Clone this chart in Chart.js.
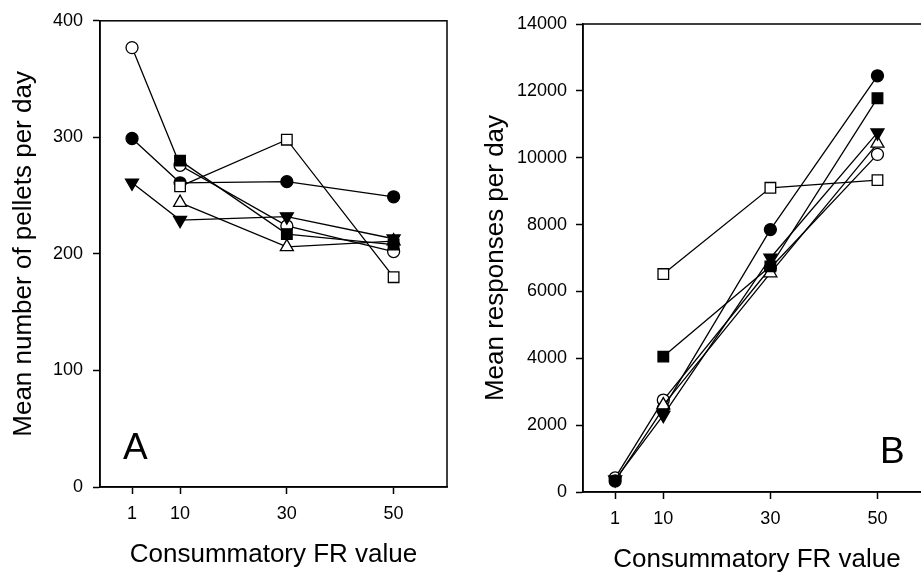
<!DOCTYPE html>
<html>
<head>
<meta charset="utf-8">
<script src="https://cdn.jsdelivr.net/npm/chart.js@4"></script>
<style>
    html, body { margin: 0; padding: 0; background: #fff; overflow: hidden; }
    body { width: 921px; height: 579px; position: relative; }
    .panel { position: absolute; top: 0; height: 579px; }
    #panelA { left: 0; width: 460px; }
    #panelB { left: 460px; width: 480px; }
</style>
</head>
<body>
<div class="panel" id="panelA"><canvas id="chartA"></canvas></div>
<div class="panel" id="panelB"><canvas id="chartB"></canvas></div>
<script>
// x categories (consummatory FR value)
const frValues = [1, 10, 30, 50];

// panel A: mean number of pellets per day
const pelletsFilledCircle = [299, 261, 262, 249];
const pelletsOpenCircle = [377, 276, 224, 202];
const pelletsFilledTriangle = [261, 229, 232, 213];
const pelletsOpenSquare = [null, 258, 298, 180];
const pelletsFilledSquare = [null, 280, 217, 208];
const pelletsOpenTriangle = [null, 244, 206, 211];
const pelletsTicks = [0, 100, 200, 300, 400];

// panel B: mean responses per day
const respFilledCircle = [330, 2500, 7850, 12450];
const respOpenCircle = [420, 2750, 6700, 10100];
const respFilledTriangle = [370, 2300, 7000, 10750];
const respOpenSquare = [null, 6520, 9100, 9330];
const respFilledSquare = [null, 4050, 6750, 11780];
const respOpenTriangle = [null, 2600, 6550, 10430];
const respTicks = [0, 2000, 4000, 6000, 8000, 10000, 12000, 14000];

const FONT = "'Liberation Sans', Arial, sans-serif";

function toPoints(values) {
    let pts = [];
    values.forEach(function (v, i) {
        if (v !== null) pts.push({ x: frValues[i], y: v });
    });
    return pts;
}

// lower order is drawn on top
function series(values, style, filled, order) {
    let radius = style === "circle" ? 6 : 7.5;
    return {
        data: toPoints(values),
        order: order,
        borderColor: "#000",
        borderWidth: 1.3,
        pointStyle: style === "triangleDown" ? "triangle" : style,
        rotation: style === "triangleDown" ? 180 : 0,
        pointRadius: radius,
        pointBackgroundColor: filled ? "#000" : "#fff",
        pointBorderColor: "#000",
        pointBorderWidth: 1.3,
        tension: 0,
        fill: false,
    };
}

// box around the plot area plus the panel letter
const framePlugin = {
    id: "frame",
    afterDraw(chart, args, opts) {
        const a = chart.chartArea;
        const ctx = chart.ctx;
        ctx.save();
        ctx.strokeStyle = "#000";
        ctx.lineWidth = 1.5;
        ctx.strokeRect(a.left, a.top, a.right - a.left, a.bottom - a.top);
        ctx.fillStyle = "#000";
        ctx.font = "37px " + FONT;
        ctx.textBaseline = "alphabetic";
        ctx.textAlign = "left";
        ctx.fillText(opts.letter, opts.lx, opts.ly);
        ctx.restore();
    },
};

function makeChart(id, cfg) {
    return new Chart(document.getElementById(id), {
        type: "line",
        data: { datasets: cfg.datasets },
        plugins: [framePlugin],
        options: {
            responsive: true,
            maintainAspectRatio: false,
            animation: false,
            layout: { padding: cfg.padding },
            plugins: {
                legend: { display: false },
                tooltip: { enabled: false },
                frame: { letter: cfg.letter, lx: cfg.lx, ly: cfg.ly },
            },
            scales: {
                x: {
                    type: "linear",
                    min: -5,
                    max: 60,
                    afterBuildTicks: function (scale) {
                        scale.ticks = frValues.map(function (v) {
                            return { value: v };
                        });
                    },
                    afterFit: function (scale) {
                        scale.height = cfg.xHeight;
                    },
                    grid: {
                        drawOnChartArea: false,
                        tickLength: 7,
                        tickWidth: 1.5,
                        tickColor: "#000",
                    },
                    border: { color: "#000", width: 1.5 },
                    ticks: {
                        color: "#000",
                        font: { family: FONT, size: 18 },
                        padding: 9,
                        maxRotation: 0,
                    },
                    title: {
                        display: true,
                        text: "Consummatory FR value",
                        color: "#000",
                        font: { family: FONT, size: 26 },
                        padding: { top: 0, bottom: cfg.xTitlePad },
                    },
                },
                y: {
                    min: 0,
                    max: cfg.yMax,
                    afterBuildTicks: function (scale) {
                        scale.ticks = cfg.yTicks.map(function (v) {
                            return { value: v };
                        });
                    },
                    afterFit: function (scale) {
                        scale.width = cfg.yWidth;
                    },
                    grid: {
                        drawOnChartArea: false,
                        tickLength: 7,
                        tickWidth: 1.5,
                        tickColor: "#000",
                    },
                    border: { color: "#000", width: 1.5 },
                    ticks: {
                        color: "#000",
                        font: { family: FONT, size: 18 },
                        padding: cfg.yTickPad,
                        callback: function (v) {
                            return String(v);
                        },
                    },
                    title: {
                        display: true,
                        text: cfg.yTitle,
                        color: "#000",
                        font: { family: FONT, size: 26 },
                        padding: { top: cfg.yTitlePad, bottom: 0 },
                    },
                },
            },
        },
    });
}

makeChart("chartA", {
    datasets: [
        series(pelletsFilledCircle, "circle", true, 4),
        series(pelletsOpenCircle, "circle", false, 5),
        series(pelletsFilledTriangle, "triangleDown", true, 2),
        series(pelletsOpenSquare, "rect", false, 1),
        series(pelletsFilledSquare, "rect", true, 0),
        series(pelletsOpenTriangle, "triangle", false, 3),
    ],
    padding: { top: 17, right: 13, left: 0, bottom: 0 },
    xHeight: 92,
    yWidth: 100,
    yMax: 400,
    yTicks: pelletsTicks,
    yTickPad: 10,
    yTitle: "Mean number of pellets per day",
    yTitlePad: 8,
    xTitlePad: 9,
    letter: "A",
    lx: 123,
    ly: 459,
});

makeChart("chartB", {
    datasets: [
        series(respFilledCircle, "circle", true, 4),
        series(respOpenCircle, "circle", false, 5),
        series(respFilledTriangle, "triangleDown", true, 2),
        series(respOpenSquare, "rect", false, 1),
        series(respFilledSquare, "rect", true, 0),
        series(respOpenTriangle, "triangle", false, 3),
    ],
    padding: { top: 24, right: 9, left: 0, bottom: 0 },
    xHeight: 87,
    yWidth: 123,
    yMax: 14000,
    yTicks: respTicks,
    yTickPad: 9,
    yTitle: "Mean responses per day",
    yTitlePad: 20,
    xTitlePad: 4,
    letter: "B",
    lx: 420,
    ly: 463,
});
</script>
</body>
</html>
